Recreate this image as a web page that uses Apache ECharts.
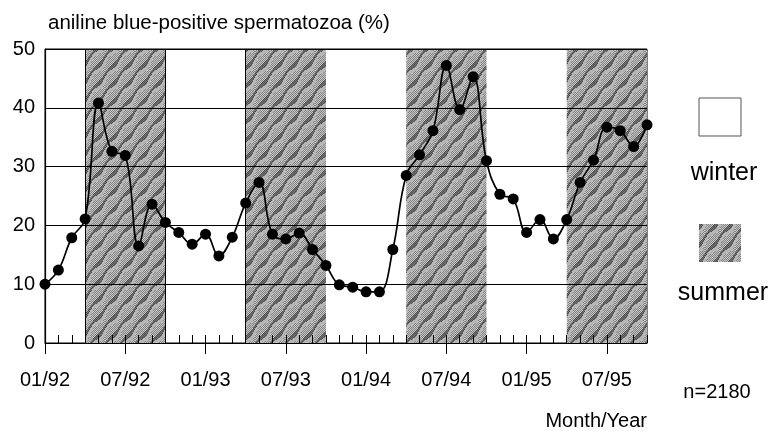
<!DOCTYPE html>
<html>
<head>
<meta charset="utf-8">
<script src="https://cdn.jsdelivr.net/npm/echarts@6/dist/echarts.min.js"></script>
<style>
  html, body { margin: 0; padding: 0; background: #fff; }
  #chart { width: 770px; height: 431px; }
</style>
</head>
<body>
<div id="chart"></div>
<script>
// Month index counted from January 1992 (0) to October 1995 (45)
const monthIndex = [
  0, 1, 2, 3, 4, 5, 6, 7, 8, 9, 10, 11, 12, 13, 14, 15, 16, 17, 18, 19, 20, 21, 22,
  23, 24, 25, 26, 27, 28, 29, 30, 31, 32, 33, 34, 35, 36, 37, 38, 39, 40, 41, 42, 43, 44, 45
];
// Monthly share of aniline blue-positive spermatozoa (%)
const positivePct = [
  10.0, 12.4, 17.9, 21.1, 40.8, 32.6, 31.9, 16.5, 23.6, 20.5, 18.8, 16.8, 18.5, 14.8, 18.0,
  23.8, 27.3, 18.5, 17.7, 18.7, 15.9, 13.2, 9.9, 9.5, 8.7, 8.7, 15.9, 28.5, 32.0, 36.1,
  47.2, 39.7, 45.3, 31.0, 25.3, 24.5, 18.8, 21.0, 17.7, 21.0, 27.3, 31.1, 36.7, 36.1, 33.4, 37.1
];
// Labelled months on the time axis
const tickMonths = [0, 6, 12, 18, 24, 30, 36, 42];
const tickLabels = ['01/92', '07/92', '01/93', '07/93', '01/94', '07/94', '01/95', '07/95'];
// Summer periods (April to September), as [start, end] month indices
const summerBands = [[3, 9], [15, 21], [27, 33], [39, 45]];
// Band edges that carry a drawn rule
const ruledEdges = [3, 9, 15];

const titleText = 'aniline blue-positive spermatozoa (%)';
const xAxisTitle = 'Month/Year';
const sampleNote = 'n=2180';
const legendWinter = 'winter';
const legendSummer = 'summer';

const FONT = '"Liberation Sans", Arial, sans-serif';

// Dithered grey tile with wavy rising stripes, used to fill the summer bands
function makeStripeTile() {
  const W = 15, H = 18;
  const c = document.createElement('canvas');
  c.width = W; c.height = H;
  const ctx = c.getContext('2d');
  const img = ctx.createImageData(W, H);
  for (let y = 0; y < H; y++) {
    for (let x = 0; x < W; x++) {
      const wobble = 1.3 * Math.sin(2 * Math.PI * x / W) + 0.8 * Math.sin(2 * Math.PI * y / H);
      const p = (((y + x * H / W + wobble) % H) + H) % H;
      const odd = (x + y) & 1;
      let g;
      if (p < 4.5) g = odd ? 78 : 118;        // dark stripe
      else if (p < 9.5) g = 182;              // flat light band
      else g = odd ? 132 : 196;               // checker dither
      const k = (y * W + x) * 4;
      img.data[k] = g; img.data[k + 1] = g; img.data[k + 2] = g; img.data[k + 3] = 255;
    }
  }
  ctx.putImageData(img, 0, 0);
  return c;
}
const stripeTile = makeStripeTile();
const stripeFill = { image: stripeTile, repeat: 'repeat' };

const chart = echarts.init(document.getElementById('chart'), null, { renderer: 'canvas' });

const option = {
  animation: false,
  backgroundColor: '#fff',
  grid: {
    left: 45, right: 123, top: 49, bottom: 88,
    show: true, borderColor: '#000', borderWidth: 1, backgroundColor: 'transparent'
  },
  xAxis: [
    {
      type: 'value', min: 0, max: 45, interval: 1, position: 'bottom', z: 2,
      axisLine: { show: true, lineStyle: { color: '#000', width: 1.2 } },
      axisTick: { show: true, inside: true, length: 8, lineStyle: { color: '#000', width: 1 } },
      axisLabel: { show: false },
      splitLine: { show: false }
    },
    {
      type: 'value', min: 0, max: 45, position: 'bottom', z: 2,
      axisLine: { show: false },
      axisTick: {
        show: true, inside: false, length: 11, customValues: tickMonths,
        lineStyle: { color: '#000', width: 1 }
      },
      axisLabel: {
        show: true, customValues: tickMonths,
        formatter: v => tickLabels[tickMonths.indexOf(v)] || '',
        fontSize: 20, color: '#000', fontFamily: FONT, margin: 27
      },
      splitLine: { show: false }
    }
  ],
  yAxis: {
    type: 'value', min: 0, max: 50, interval: 10, z: 2,
    axisLine: { show: true, lineStyle: { color: '#000', width: 1.2 } },
    axisTick: { show: false },
    axisLabel: { fontSize: 20, color: '#000', fontFamily: FONT, margin: 10 },
    splitLine: { show: true, lineStyle: { color: '#000', width: 1.2 } }
  },
  series: [
    {
      // shaded summer periods
      type: 'line', z: 1, silent: true, data: [], symbol: 'none',
      markArea: {
        silent: true,
        itemStyle: { color: stripeFill, borderWidth: 0 },
        data: summerBands.map(b => [{ xAxis: b[0] }, { xAxis: b[1] }])
      }
    },
    {
      // rules on selected band edges
      type: 'line', z: 2, silent: true, data: [], symbol: 'none',
      markLine: {
        silent: true, symbol: ['none', 'none'], label: { show: false },
        lineStyle: { color: '#000', width: 1, type: 'solid' },
        data: ruledEdges.map(m => ({ xAxis: m }))
      }
    },
    {
      type: 'line', z: 3,
      data: positivePct.map((v, i) => [monthIndex[i], v]),
      smooth: 0.4,
      symbol: 'circle', symbolSize: 11,
      itemStyle: { color: '#000' },
      lineStyle: { color: '#000', width: 1.7 }
    }
  ],
  graphic: [
    {
      type: 'text', x: 48, y: 23,
      style: { text: titleText, font: '20.5px ' + FONT, fill: '#000', verticalAlign: 'middle' }
    },
    {
      type: 'rect', shape: { x: 699, y: 98, width: 42, height: 38 },
      style: { fill: '#fff', stroke: '#555', lineWidth: 1 }
    },
    {
      type: 'text', x: 724, y: 173,
      style: { text: legendWinter, font: '25px ' + FONT, fill: '#000', align: 'center', verticalAlign: 'middle' }
    },
    {
      type: 'rect', shape: { x: 699, y: 224, width: 42, height: 38 },
      style: { fill: stripeFill }
    },
    {
      type: 'text', x: 723, y: 293,
      style: { text: legendSummer, font: '25px ' + FONT, fill: '#000', align: 'center', verticalAlign: 'middle' }
    },
    {
      type: 'text', x: 717, y: 392,
      style: { text: sampleNote, font: '20px ' + FONT, fill: '#000', align: 'center', verticalAlign: 'middle' }
    },
    {
      type: 'text', x: 647, y: 421,
      style: { text: xAxisTitle, font: '20px ' + FONT, fill: '#000', align: 'right', verticalAlign: 'middle' }
    }
  ]
};

chart.setOption(option);
</script>
</body>
</html>
